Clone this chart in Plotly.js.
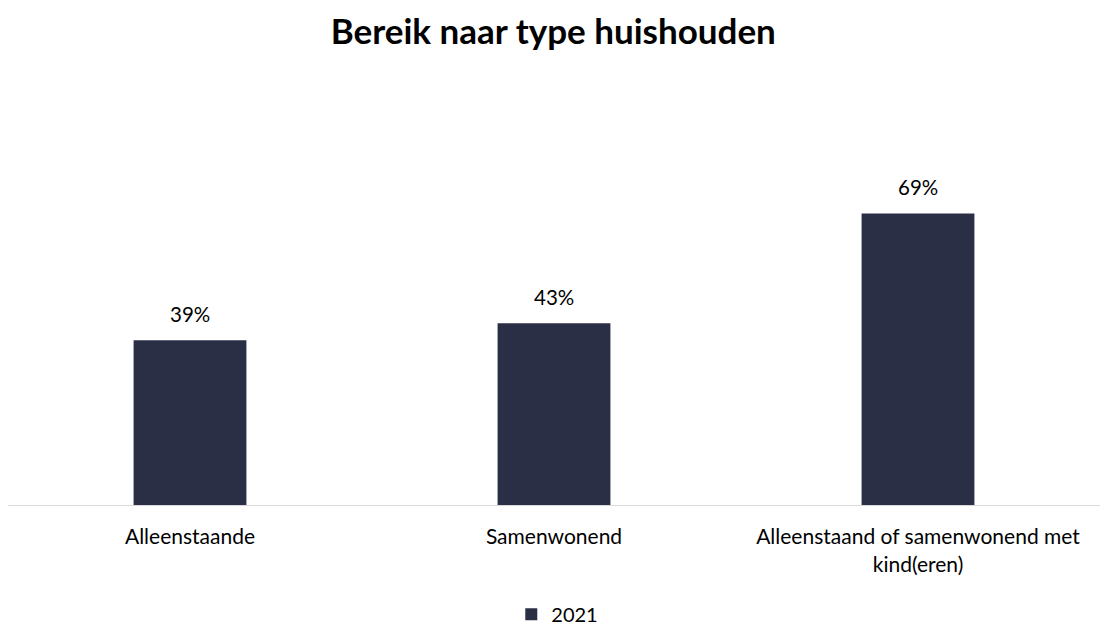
<!DOCTYPE html>
<html>
<head>
<meta charset="utf-8">
<script src="https://cdn.plot.ly/plotly-3.0.1.min.js"></script>
<style>html,body{margin:0;padding:0;background:#fff}#chart{width:1100px;height:628px}</style>
</head>
<body>
<div id="chart"></div>
<script>
const categories = ["Alleenstaande", "Samenwonend", "Alleenstaand of samenwonend met<br>kind(eren)"];
const values2021 = [39, 43, 69];
const seriesName = "2021";

const FONT = "Lato, 'Open Sans', sans-serif";
const trace = {
  type: "bar",
  x: categories,
  y: values2021,
  name: seriesName,
  marker: {color: "#2b2f45"},
  hoverinfo: "skip"
};
const annotations = categories.map((c, i) => ({
  x: c, y: values2021[i], xref: "x", yref: "y",
  text: values2021[i] + "%", showarrow: false,
  yanchor: "bottom", yshift: 12,
  font: {family: FONT, size: 20.5, color: "#000"}
}));
const layout = {
  width: 1100, height: 628,
  margin: {l: 8, r: 0, t: 167, b: 123, autoexpand: false},
  paper_bgcolor: "#fff", plot_bgcolor: "#fff",
  title: {text: "<b>Bereik naar type huishouden</b>", x: 0.503, xanchor: "center", y: 0.95, yanchor: "middle",
          font: {family: FONT, size: 35, color: "#000"}},
  bargap: 0.69,
  showlegend: true,
  annotations: annotations,
  legend: {orientation: "h", x: 0.503, xanchor: "center", yref: "container", y: 0.022, yanchor: "middle",
           font: {family: FONT, size: 20, color: "#000"}, itemwidth: 30},
  xaxis: {showline: true, linecolor: "#d9d9d9", linewidth: 1, ticks: "", showgrid: false, automargin: false,
          tickfont: {family: FONT, size: 21, color: "#000"}, fixedrange: true, ticklabelstandoff: 13},
  yaxis: {range: [0, 80], visible: false, showgrid: false, zeroline: false, fixedrange: true}
};
Plotly.newPlot("chart", [trace], layout, {displayModeBar: false, staticPlot: true});
</script>
</body>
</html>
